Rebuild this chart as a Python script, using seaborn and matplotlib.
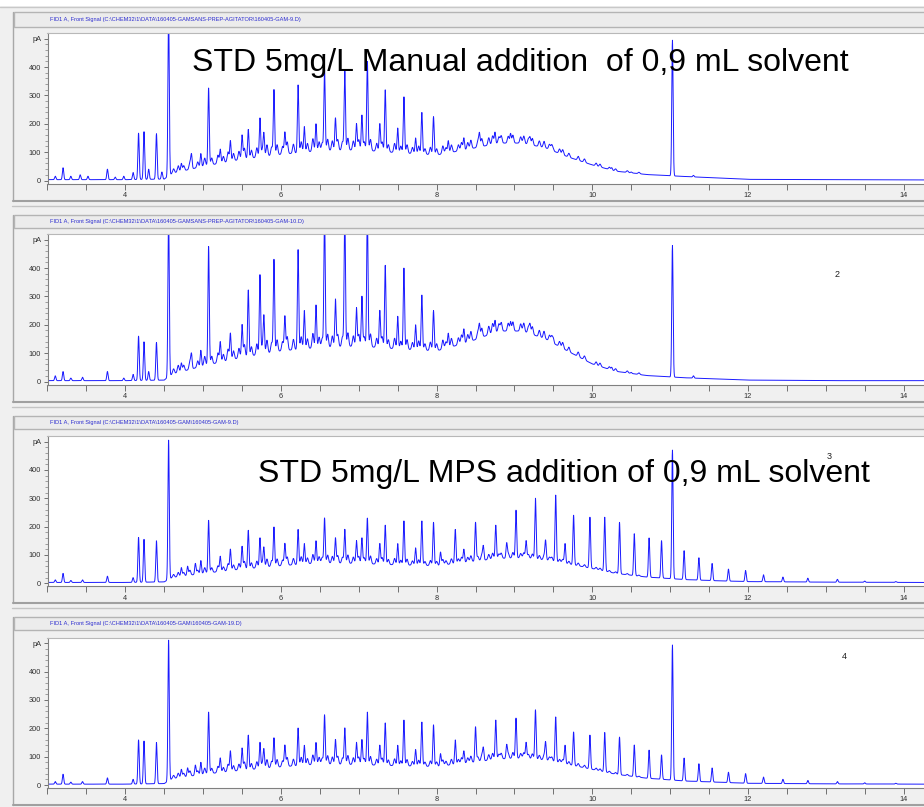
import numpy as np
import pandas as pd
import matplotlib
matplotlib.use('Agg')
import matplotlib.pyplot as plt
import seaborn as sns
from matplotlib.patches import Rectangle
from matplotlib.lines import Line2D

# ---------------- data ----------------
headers = [
    r'FID1 A, Front Signal (C:\CHEM32\1\DATA\160405-GAMSANS-PREP-AGITATOR\160405-GAM-9.D)',
    r'FID1 A, Front Signal (C:\CHEM32\1\DATA\160405-GAMSANS-PREP-AGITATOR\160405-GAM-10.D)',
    r'FID1 A, Front Signal (C:\CHEM32\1\DATA\160405-GAM\160405-GAM-9.D)',
    r'FID1 A, Front Signal (C:\CHEM32\1\DATA\160405-GAM\160405-GAM-19.D)',
]
x_ticks = [4, 6, 8, 10, 12, 14]
y_ticks = [0, 100, 200, 300, 400, 500]
y_ticklabels = ['0', '100', '200', '300', '400', 'pA']

# baseline hump (retention time, pA)
base_t = [3.0, 4.0, 4.5, 4.6, 5.0, 5.5, 6.0, 6.5, 7.0, 7.5, 8.0, 8.4, 8.8, 9.1,
          9.4, 9.7, 10.0, 10.3, 10.7, 11.2, 11.6, 12.0, 13.0, 14.2]
base_1 = [3, 3, 5, 25, 50, 75, 92, 105, 108, 98, 90, 110, 132, 132, 115, 82, 55, 33, 21, 14, 9, 4, 3, 2]
base_2 = [3, 3, 5, 26, 55, 85, 108, 120, 125, 115, 108, 138, 178, 178, 150, 105, 62, 36, 21, 13, 9, 5, 3, 3]
base_3 = [3, 3, 5, 20, 35, 50, 62, 72, 70, 65, 62, 75, 88, 90, 82, 68, 52, 35, 22, 13, 9, 6, 4, 3]
base_4 = [3, 3, 5, 22, 38, 52, 64, 74, 72, 68, 65, 78, 92, 95, 88, 72, 55, 38, 24, 14, 10, 6, 4, 3]

# major peaks (retention time, apex pA)
peaks_1 = [(3.1, 15), (3.2, 45), (3.3, 15), (3.42, 20), (3.52, 15), (3.77, 40), (3.87, 12), (3.98, 15),
           (4.1, 28), (4.17, 167), (4.24, 172), (4.3, 40), (4.4, 165), (4.47, 30), (4.556, 600),
           (4.72, 60), (4.85, 90), (4.97, 95), (5.07, 326), (5.22, 110), (5.35, 140), (5.5, 160),
           (5.58, 180), (5.73, 220), (5.78, 165), (5.91, 320), (6.05, 170), (6.22, 337), (6.3, 190),
           (6.45, 200), (6.56, 390), (6.7, 220), (6.82, 390), (6.97, 200), (7.04, 230), (7.11, 420),
           (7.27, 200), (7.34, 320), (7.5, 185), (7.58, 295), (7.73, 150), (7.81, 240), (7.96, 225),
           (8.15, 140), (8.35, 150), (8.55, 165), (8.75, 170), (8.95, 165), (9.2, 150), (9.5, 110),
           (10.25, 45), (10.5, 30), (11.03, 495), (11.3, 18)]
peaks_2 = [(3.1, 20), (3.2, 35), (3.3, 12), (3.45, 15), (3.77, 35), (3.98, 12), (4.1, 25), (4.17, 160),
           (4.24, 140), (4.3, 35), (4.4, 138), (4.556, 600), (4.72, 65), (4.85, 95), (4.97, 110),
           (5.07, 476), (5.22, 140), (5.35, 170), (5.5, 200), (5.58, 323), (5.73, 376), (5.78, 230),
           (5.91, 430), (6.05, 230), (6.22, 465), (6.3, 250), (6.45, 270), (6.56, 600), (6.7, 290),
           (6.82, 600), (6.97, 260), (7.04, 300), (7.11, 600), (7.27, 250), (7.34, 410), (7.5, 230),
           (7.58, 400), (7.73, 200), (7.81, 305), (7.96, 250), (8.15, 170), (8.35, 185), (8.55, 200),
           (8.75, 215), (8.95, 210), (9.2, 200), (9.5, 150), (10.25, 50), (10.5, 32), (11.03, 480),
           (11.3, 20)]
peaks_3 = [(3.1, 12), (3.2, 35), (3.3, 10), (3.45, 12), (3.77, 25), (4.1, 20), (4.17, 162), (4.24, 155),
           (4.4, 150), (4.556, 505), (4.72, 55), (4.8, 60), (4.9, 70), (4.97, 80), (5.07, 222),
           (5.22, 95), (5.35, 120), (5.5, 130), (5.58, 187), (5.73, 160), (5.78, 125), (5.91, 198),
           (6.05, 140), (6.22, 190), (6.3, 140), (6.45, 150), (6.56, 230), (6.7, 160), (6.82, 190),
           (6.97, 150), (7.04, 160), (7.11, 230), (7.27, 140), (7.34, 205), (7.5, 140), (7.58, 220),
           (7.73, 125), (7.81, 220), (7.96, 215), (8.05, 110), (8.24, 190), (8.35, 120), (8.5, 215),
           (8.6, 130), (8.76, 205), (8.9, 140), (9.02, 258), (9.15, 150), (9.27, 300), (9.4, 150),
           (9.53, 311), (9.65, 140), (9.76, 240), (9.97, 233), (10.16, 233), (10.35, 215), (10.54, 175),
           (10.73, 160), (10.89, 150), (11.03, 470), (11.18, 115), (11.37, 90), (11.54, 70), (11.75, 50),
           (11.97, 45), (12.2, 30), (12.45, 22), (12.77, 18), (13.15, 14), (13.5, 8), (13.9, 6)]
peaks_4 = [(3.1, 12), (3.2, 38), (3.3, 10), (3.45, 12), (3.77, 25), (4.1, 20), (4.17, 159), (4.24, 155),
           (4.4, 150), (4.556, 511), (4.72, 55), (4.8, 60), (4.9, 70), (4.97, 80), (5.07, 257),
           (5.22, 95), (5.35, 120), (5.5, 130), (5.58, 176), (5.73, 150), (5.78, 125), (5.91, 166),
           (6.05, 140), (6.22, 201), (6.3, 140), (6.45, 150), (6.56, 247), (6.7, 160), (6.82, 201),
           (6.97, 150), (7.04, 160), (7.11, 257), (7.27, 140), (7.34, 219), (7.5, 140), (7.58, 229),
           (7.73, 125), (7.81, 222), (7.96, 212), (8.05, 110), (8.24, 159), (8.35, 120), (8.5, 205),
           (8.6, 130), (8.76, 229), (8.9, 140), (9.02, 236), (9.15, 150), (9.27, 265), (9.4, 150),
           (9.53, 240), (9.65, 140), (9.76, 187), (9.97, 176), (10.16, 185), (10.35, 169), (10.54, 141),
           (10.73, 123), (10.89, 106), (11.03, 494), (11.18, 95), (11.37, 75), (11.54, 60), (11.75, 45),
           (11.97, 40), (12.2, 28), (12.45, 20), (12.77, 16), (13.15, 12), (13.5, 8), (13.9, 6)]

# minor (unresolved) peaks riding on the hump: (retention time, height above hump)
minor_peaks = [(4.62, 15), (4.68, 22), (4.75, 18), (4.83, 25), (4.93, 20), (5.02, 28), (5.11, 24),
               (5.19, 30), (5.26, 22), (5.32, 35), (5.39, 26), (5.46, 30), (5.53, 38), (5.62, 28),
               (5.69, 34), (5.76, 25), (5.82, 40), (5.88, 30), (5.95, 36), (6.02, 28), (6.08, 42),
               (6.16, 32), (6.26, 38), (6.34, 30), (6.41, 45), (6.49, 32), (6.53, 28), (6.6, 40),
               (6.66, 34), (6.73, 38), (6.79, 30), (6.86, 42), (6.93, 32), (7.0, 36), (7.07, 30),
               (7.15, 40), (7.23, 28), (7.3, 34), (7.38, 26), (7.46, 32), (7.54, 24), (7.62, 30),
               (7.69, 22), (7.77, 28), (7.85, 20), (7.92, 26), (8.0, 22), (8.08, 28), (8.12, 20),
               (8.19, 26), (8.28, 22), (8.32, 28), (8.4, 24), (8.44, 30), (8.53, 22), (8.58, 28),
               (8.67, 26), (8.72, 30), (8.8, 22), (8.83, 26), (8.92, 24), (8.98, 28), (9.08, 22),
               (9.12, 26), (9.18, 20), (9.23, 24), (9.32, 20), (9.38, 22), (9.45, 18), (9.48, 20),
               (9.58, 16), (9.62, 18), (9.7, 14), (9.82, 14), (9.9, 12), (10.05, 10), (10.1, 10),
               (10.22, 8), (10.3, 8), (10.45, 6), (10.6, 5)]
minor_scale = [1.0, 1.15, 0.7, 0.75]

bases = [base_1, base_2, base_3, base_4]
peaks = [peaks_1, peaks_2, peaks_3, peaks_4]

annotations = [(0, 'STD 5mg/L Manual addition  of 0,9 mL solvent', 192, 63),
               (2, 'STD 5mg/L MPS addition of 0,9 mL solvent', 258, 474)]
corner_labels = [(1, '2', 13.15, 376), (2, '3', 13.04, 449), (3, '4', 13.24, 455)]

# ---------------- geometry (pixels) ----------------
W, H = 924, 807
PX_PER_MIN = 78.25
X0_PX = 47.5
S = 0.2835  # px per pA
# (axes top, zero line, axes bottom, header top, header bottom, frame bottom)
geo = [(33, 180.5, 183.5, 11.7, 27.3, 200.7),
       (234, 381.5, 384.5, 215, 228, 402),
       (435.7, 583.3, 586.3, 415.7, 429, 603),
       (637.5, 785.0, 788.0, 617, 630, 805)]

sns.set_style('white')
plt.rcParams['font.family'] = ['Liberation Sans', 'DejaVu Sans']
SMALL = ['Liberation Sans', 'DejaVu Sans']

fig = plt.figure(figsize=(W / 100, H / 100), dpi=100, facecolor='#f0f0f0')


def fx(px):
    return px / W


def fy(py):
    return 1 - py / H


# white strip on top
fig.add_artist(Rectangle((0, fy(6)), 1, 6 / H, transform=fig.transFigure,
                         facecolor='white', edgecolor='none', zorder=0))
fig.add_artist(Line2D([0, 1], [fy(6.5), fy(6.5)], transform=fig.transFigure,
                      color='#c8c8c8', lw=1, zorder=1))

t = np.linspace(3.0, 14.3, 12000)
sigma = 0.0085
xmax = 3 + (W - X0_PX) / PX_PER_MIN

for i, (T, Z, B, HT, HB, FB) in enumerate(geo):
    # panel frame
    fig.add_artist(Line2D([fx(13.3), fx(13.3)], [fy(HT), fy(FB)], transform=fig.transFigure,
                          color='#a8a8a8', lw=1, zorder=1))
    fig.add_artist(Line2D([fx(13.3), 1], [fy(FB), fy(FB)], transform=fig.transFigure,
                          color='#a0a0a0', lw=1.5, zorder=1))
    if i < 3:
        fig.add_artist(Line2D([fx(12), 1], [fy(FB + 5), fy(FB + 5)], transform=fig.transFigure,
                              color='#c4c4c4', lw=1, zorder=1))
    fig.add_artist(Rectangle((fx(14), fy(HB)), 1, (HB - HT) / H, transform=fig.transFigure,
                             facecolor='#ececec', edgecolor='#b4b4b4', lw=1, zorder=1))
    fig.text(fx(50), fy((HT + HB) / 2), headers[i], fontsize=4.1, color='#2b2bd0',
             family=SMALL, va='center', ha='left', zorder=2)

    # signal
    bt = np.array(base_t)
    bv = np.array(bases[i], dtype=float)
    y = np.interp(t, bt, bv)
    for pt, ph in peaks[i]:
        amp = max(ph - np.interp(pt, bt, bv), 0)
        y = y + amp * np.exp(-0.5 * ((t - pt) / sigma) ** 2)
    for pt, ph in minor_peaks:
        y = y + ph * minor_scale[i] * np.exp(-0.5 * ((t - pt) / (sigma * 1.3)) ** 2)
    df = pd.DataFrame({'t': t, 'pA': y})

    ax = fig.add_axes([fx(X0_PX), fy(B), 1 - fx(X0_PX) + 0.02, (B - T) / H])
    ax.set_facecolor('white')
    sns.lineplot(data=df, x='t', y='pA', ax=ax, color='#1a1aff', linewidth=0.7,
                 estimator=None, sort=False, legend=False)
    ax.set_xlim(3, xmax + 0.02 * (W / PX_PER_MIN))
    ax.set_ylim(-(B - Z) / S, (Z - T) / S)
    ax.set_xlabel('')
    ax.set_ylabel('')
    ax.set_xticks(x_ticks)
    ax.set_xticklabels([str(v) for v in x_ticks], fontsize=5.3, color='#303030', family=SMALL)
    ax.set_xticks(np.arange(3, 14.6, 0.5), minor=True)
    ax.set_yticks(y_ticks)
    ax.set_yticklabels(y_ticklabels, fontsize=5.3, color='#303030', family=SMALL)
    ax.set_yticks(np.arange(0, 520, 20), minor=True)
    ax.tick_params(axis='x', which='both', direction='out', length=4, width=0.7,
                   color='#707070', pad=2, bottom=True)
    ax.tick_params(axis='y', which='major', direction='out', length=3, width=0.7,
                   color='#707070', pad=1.5, left=True)
    ax.tick_params(axis='y', which='minor', direction='out', length=2, width=0.6,
                   color='#909090', left=True)
    for side, sp in ax.spines.items():
        sp.set_linewidth(0.8)
        sp.set_color('#808080')
    ax.spines['top'].set_color('#b8b8b8')
    ax.spines['right'].set_visible(False)

    for pi, lab, lx, ly in corner_labels:
        if pi == i:
            ax.text(lx, ly, lab, fontsize=6.5, color='#202020', family=SMALL,
                    ha='center', va='center', zorder=1)

for pi, txt, px, py in annotations:
    fig.text(fx(px), fy(py), txt, fontsize=23, color='black', ha='left', va='center',
             family=['Liberation Sans', 'DejaVu Sans'], zorder=10)

fig.savefig('out.png', dpi=100, facecolor=fig.get_facecolor())
